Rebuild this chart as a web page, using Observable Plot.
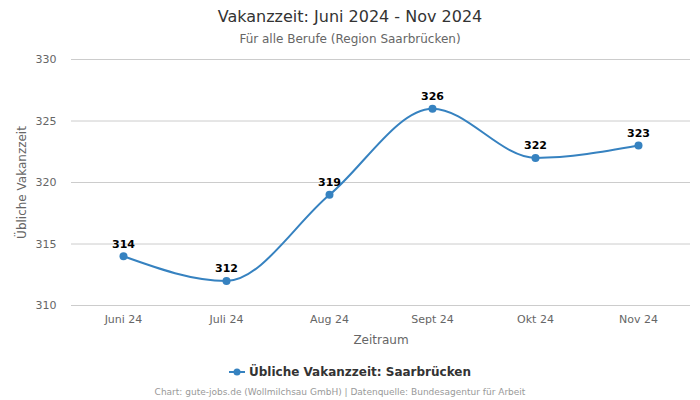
<!DOCTYPE html>
<html>
<head>
<meta charset="utf-8">
<script src="https://cdn.jsdelivr.net/npm/d3@7"></script>
<script src="https://cdn.jsdelivr.net/npm/@observablehq/plot@0.6"></script>
<style>
  body { margin: 0; width: 700px; height: 400px; background: #fff; font-family: "DejaVu Sans", sans-serif; overflow: hidden; }
  #title { position: absolute; top: 7px; left: 0; width: 700px; text-align: center; font-size: 16px; color: #333; }
  #subtitle { position: absolute; top: 32px; left: 0; width: 700px; text-align: center; font-size: 12px; color: #666; }
  #chart { position: absolute; top: 48px; left: 0; }
  #legend { position: absolute; top: 365px; left: 0; width: 700px; text-align: center; font-size: 12px; font-weight: bold; color: #333; }
  #legend svg { vertical-align: -1px; margin-right: 4px; }
  #caption { position: absolute; top: 387px; left: 0; width: 680px; text-align: center; font-size: 9px; color: #999; }
</style>
</head>
<body>
<div id="title">Vakanzzeit: Juni 2024 - Nov 2024</div>
<div id="subtitle">Für alle Berufe (Region Saarbrücken)</div>
<div id="chart"></div>
<div id="legend"><svg width="16" height="10"><line x1="0" y1="5" x2="16" y2="5" stroke="#3682c0" stroke-width="2"/><circle cx="8" cy="5" r="3.5" fill="#3682c0"/></svg>Übliche Vakanzzeit: Saarbrücken</div>
<div id="caption">Chart: gute-jobs.de (Wollmilchsau GmbH) | Datenquelle: Bundesagentur für Arbeit</div>
<script>
const months = ["Juni 24", "Juli 24", "Aug 24", "Sept 24", "Okt 24", "Nov 24"];
const values = [314, 312, 319, 326, 322, 323];
const yTicks = [310, 315, 320, 325, 330];
const data = months.map((m, i) => ({month: m, value: values[i]}));
const color = "#3682c0";

const chart = Plot.plot({
  width: 700,
  height: 304,
  marginLeft: 71,
  marginRight: 10,
  marginTop: 11,
  marginBottom: 47,
  style: { fontFamily: "DejaVu Sans, sans-serif", fontSize: "11px", color: "#666", background: "white" },
  x: { type: "point", domain: months, padding: 0.5 },
  y: { domain: [310, 330] },
  marks: [
    Plot.gridY(yTicks, { stroke: "#ccc", strokeOpacity: 1 }),
    Plot.axisX({ tickSize: 0, tickPadding: 10, label: null, fill: "#666", fontSize: 11 }),
    Plot.axisY({ ticks: yTicks, tickSize: 0, tickPadding: 15, label: null, fill: "#666", fontSize: 11 }),
    Plot.text(["Zeitraum"], { frameAnchor: "bottom", text: d => d, fontSize: 12, fill: "#666", lineAnchor: "middle", dy: 35 }),
    Plot.text(["Übliche Vakanzzeit"], { frameAnchor: "left", dx: -49, rotate: -90, textAnchor: "middle", text: d => d, fontSize: 12, fill: "#666" }),
    Plot.line(data, { x: "month", y: "value", stroke: color, strokeWidth: 2, curve: "monotone-x" }),
    Plot.dot(data, { x: "month", y: "value", fill: color, r: 4 }),
    Plot.text(data, { x: "month", y: "value", text: d => String(d.value), dy: -12, fontWeight: "bold", fontSize: 11, fill: "#000" })
  ]
});
document.getElementById("chart").appendChild(chart);
</script>
</body>
</html>
